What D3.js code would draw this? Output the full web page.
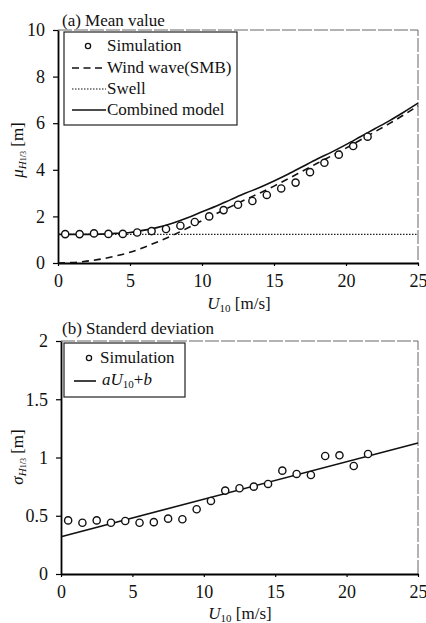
<!DOCTYPE html>
<html>
<head>
<meta charset="utf-8">
<script src="https://cdn.jsdelivr.net/npm/d3@7"></script>
</head>
<body style="margin:0; background:#fff">
<svg id="chart" width="426" height="623" font-family="'Liberation Serif'"></svg>
<script>
// (a) mean value - simulation points
var simU = [0.5,1.5,2.5,3.5,4.5,5.5,6.5,7.5,8.5,9.5,10.5,11.5,12.5,13.5,14.5,15.5,16.5,17.5,18.5,19.5,20.5,21.5];
var simMean = [1.24,1.24,1.27,1.25,1.25,1.31,1.37,1.46,1.6,1.76,2.0,2.27,2.5,2.66,2.92,3.2,3.45,3.9,4.3,4.65,5.02,5.42];

// model curves
var curveU = [0,1,2,3,4,5,6,7,8,9,10,11,12,13,14,15,16,17,18,19,20,21,22,23,24,25];
var windWave = [0,0.02,0.08,0.17,0.3,0.46,0.68,0.93,1.2,1.5,1.82,2.12,2.42,2.72,3.0,3.3,3.62,3.95,4.28,4.6,4.93,5.28,5.63,5.98,6.35,6.75];
var combined = [1.23,1.23,1.23,1.24,1.27,1.31,1.41,1.54,1.72,1.94,2.2,2.45,2.72,2.99,3.24,3.52,3.82,4.14,4.46,4.76,5.08,5.42,5.76,6.10,6.47,6.86];
var swellU = [0,25];
var swell = [1.23,1.23];

// (b) standard deviation
var simStd = [0.46,0.44,0.46,0.44,0.455,0.44,0.445,0.475,0.47,0.556,0.627,0.716,0.736,0.75,0.773,0.887,0.859,0.85,1.013,1.019,0.927,1.03];
var fitU = [0,25];
var fitStd = [0.32,1.125];

var topTicksY = [0,2,4,6,8,10];
var botTicksY = [0,0.5,1,1.5,2];
var ticksX = [0,5,10,15,20,25];

var serif = "'Liberation Serif'";
var svg = d3.select("#chart");

var xA = d3.scaleLinear().domain([0,25]).range([58,418]);
var yA = d3.scaleLinear().domain([0,10]).range([263,30]);
var xB = d3.scaleLinear().domain([0,25]).range([61,418]);
var yB = d3.scaleLinear().domain([0,2]).range([574,341]);

function frame(x, y, yTicks, fmt) {
  // faint top / right border
  svg.append("path")
    .attr("d", "M" + x(0) + "," + y.range()[1] + "H" + x(25) + "V" + y.range()[0])
    .attr("fill", "none").attr("stroke", "#666").attr("stroke-width", 1)
    .attr("stroke-dasharray", "14,2");

  var gy = svg.append("g").attr("transform", "translate(" + x(0) + ",0)")
    .call(d3.axisLeft(y).tickValues(yTicks).tickFormat(fmt).tickSize(5).tickSizeOuter(0).tickPadding(8));
  var gx = svg.append("g").attr("transform", "translate(0," + y(0) + ")")
    .call(d3.axisBottom(x).tickValues(ticksX).tickSize(3).tickSizeOuter(0).tickPadding(8));
  [gy, gx].forEach(function(g) {
    g.attr("font-family", serif);
    g.select(".domain").attr("stroke", "#000").attr("stroke-width", 1.8);
    g.selectAll(".tick line").attr("stroke", "#000").attr("stroke-width", 1.2);
    g.selectAll(".tick text").attr("font-family", serif).attr("font-size", 18).attr("fill", "#111");
  });
}

frame(xA, yA, topTicksY, d3.format("d"));
frame(xB, yB, botTicksY, function(d) { return d === 0 ? "0" : d3.format("")(d); });

// ---- panel (a) ----
var lineA = d3.line().x(function(d) { return xA(d[0]); }).y(function(d) { return yA(d[1]); });

svg.append("path").datum(d3.zip(swellU, swell)).attr("d", lineA)
  .attr("fill", "none").attr("stroke", "#222").attr("stroke-width", 1.3).attr("stroke-dasharray", "1.5,1.5");
svg.append("path").datum(d3.zip(curveU, windWave)).attr("d", lineA.curve(d3.curveMonotoneX))
  .attr("fill", "none").attr("stroke", "#111").attr("stroke-width", 1.6).attr("stroke-dasharray", "7,5");
svg.append("path").datum(d3.zip(curveU, combined)).attr("d", lineA.curve(d3.curveMonotoneX))
  .attr("fill", "none").attr("stroke", "#111").attr("stroke-width", 1.6);

svg.append("g").selectAll("circle").data(d3.zip(simU, simMean)).join("circle")
  .attr("cx", function(d) { return xA(d[0]); }).attr("cy", function(d) { return yA(d[1]); })
  .attr("r", 3.6).attr("fill", "#fff").attr("stroke", "#111").attr("stroke-width", 1.4);

// ---- panel (b) ----
var lineB = d3.line().x(function(d) { return xB(d[0]); }).y(function(d) { return yB(d[1]); });
svg.append("path").datum(d3.zip(fitU, fitStd)).attr("d", lineB)
  .attr("fill", "none").attr("stroke", "#111").attr("stroke-width", 1.6);
svg.append("g").selectAll("circle").data(d3.zip(simU, simStd)).join("circle")
  .attr("cx", function(d) { return xB(d[0]); }).attr("cy", function(d) { return yB(d[1]); })
  .attr("r", 3.6).attr("fill", "#fff").attr("stroke", "#111").attr("stroke-width", 1.4);

// ---- titles ----
function txt(x, y, size) {
  return svg.append("text").attr("x", x).attr("y", y).attr("font-family", serif)
    .attr("font-size", size).attr("fill", "#111");
}
txt(62, 26, 17).text("(a) Mean value");
txt(62, 334, 17).text("(b) Standerd deviation");

function uLabel(cx, y) {
  var t = txt(cx, y, 17).attr("text-anchor", "middle");
  t.append("tspan").attr("font-style", "italic").text("U");
  t.append("tspan").attr("font-size", 11).attr("dy", 3).text("10");
  t.append("tspan").attr("dy", -3).text(" [m/s]");
}
uLabel(239, 309);
uLabel(240, 619);

function yLabel(sym, cx, cy) {
  var t = txt(0, 0, 17).attr("transform", "translate(" + cx + "," + cy + ") rotate(-90)")
    .attr("text-anchor", "middle");
  t.append("tspan").attr("font-style", "italic").text(sym);
  t.append("tspan").attr("font-style", "italic").attr("font-size", 11).attr("dy", 3).text("H");
  t.append("tspan").attr("font-size", 8).text("1/3");
  t.append("tspan").attr("dy", -3).text(" [m]");
}
yLabel("\u03bc", 23, 150);
yLabel("\u03c3", 23, 457);

// ---- legends ----
function legendBox(x0, y0, w, h) {
  svg.append("rect").attr("x", x0).attr("y", y0).attr("width", w).attr("height", h)
    .attr("fill", "#fff").attr("stroke", "#222").attr("stroke-width", 1.2);
}
legendBox(64, 32, 173, 93);
var legA = [
  {name: "Simulation", kind: "circle", y: 46},
  {name: "Wind wave(SMB)", kind: "dash", y: 68},
  {name: "Swell", kind: "dot", y: 89},
  {name: "Combined model", kind: "solid", y: 110}
];
legA.forEach(function(d) {
  if (d.kind === "circle") {
    svg.append("circle").attr("cx", 88).attr("cy", d.y).attr("r", 2.6)
      .attr("fill", "#fff").attr("stroke", "#111").attr("stroke-width", 1.3);
  } else {
    svg.append("line").attr("x1", 72).attr("x2", 106).attr("y1", d.y).attr("y2", d.y)
      .attr("stroke", "#111").attr("stroke-width", d.kind === "dot" ? 1.2 : 1.6)
      .attr("stroke-dasharray", d.kind === "dash" ? "7,4.5" : d.kind === "dot" ? "1.5,1.5" : null);
  }
  txt(107, d.y + 5, 17).text(d.name);
});

legendBox(64, 343, 121, 54);
svg.append("circle").attr("cx", 89).attr("cy", 358).attr("r", 2.6)
  .attr("fill", "#fff").attr("stroke", "#111").attr("stroke-width", 1.3);
txt(100, 363, 17).text("Simulation");
svg.append("line").attr("x1", 74).attr("x2", 96).attr("y1", 381).attr("y2", 381)
  .attr("stroke", "#111").attr("stroke-width", 1.6);
var fl = txt(102, 385, 17);
fl.append("tspan").attr("font-style", "italic").text("aU");
fl.append("tspan").attr("font-size", 11).attr("dy", 3).text("10");
fl.append("tspan").attr("dy", -3).text("+");
fl.append("tspan").attr("font-style", "italic").text("b");
</script>
</body>
</html>
